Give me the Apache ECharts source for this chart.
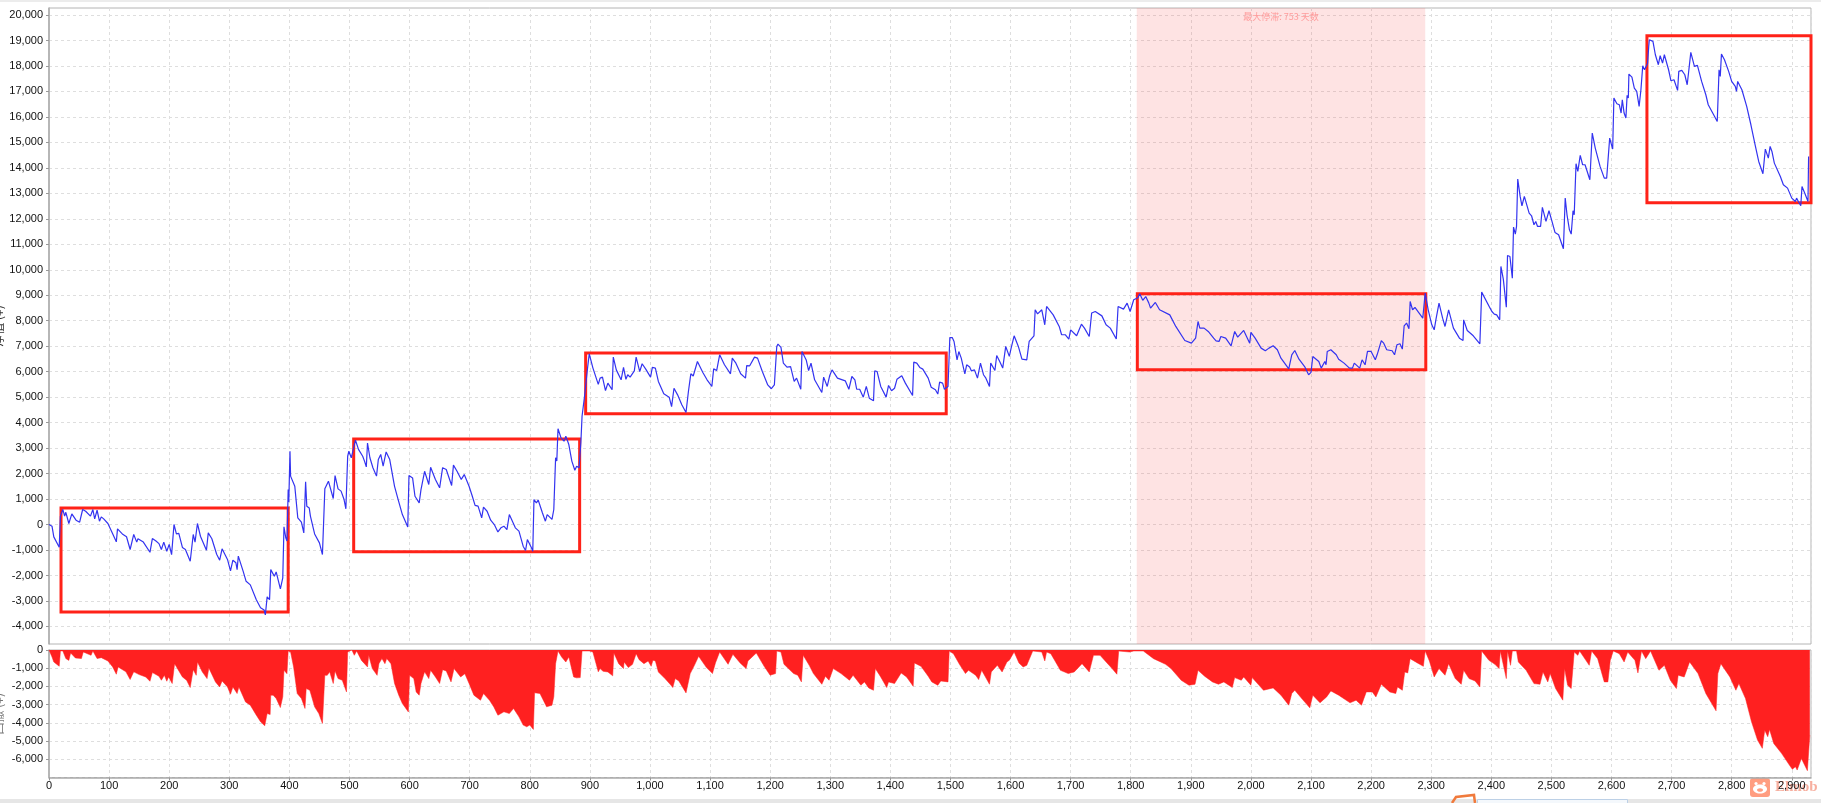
<!DOCTYPE html>
<html>
<head>
<meta charset="utf-8">
<title>净值曲线</title>
<style>
  html, body { margin: 0; padding: 0; background: #fff; overflow: hidden; }
  #chart { width: 1821px; height: 803px; }
</style>
</head>
<body>
<div id="chart"></div>
<script src="https://cdn.jsdelivr.net/npm/echarts@6/dist/echarts.min.js"></script>
<script>
// values: [trade no, amount]
const equityCurve = [
  [0,0],[5,-65],[8,-484],[17,-890],[19,330],[23,590],[26,330],[28,480],[33,40],[36,30],[38,420],[41,390],[45,170],[51,90],[56,590],[61,520],[64,590],[69,330],[73,590],[76,220],[80,560],[84,130],[87,300],[91,220],[98,40],
  [104,-260],[112,-680],[114,-170],[122,-370],[129,-480],[135,-980],[141,-390],[146,-690],[148,-560],[157,-690],[168,-1090],[172,-550],[178,-650],[183,-750],[187,-980],[191,-690],[196,-1050],[200,-780],[204,-1180],[208,0],[212,-370],[216,-350],[222,-900],[227,-980],[235,-1440],[240,-390],[243,-690],[247,40],[252,-460],[262,-1010],[265,-330],[271,-560],[279,-1165],[284,-1400],[288,-955],[297,-1370],
  [302,-1820],[306,-1400],[311,-1500],[313,-1770],[315,-1240],[323,-1830],[328,-2230],[335,-2370],[345,-2950],[352,-3270],[358,-3360],[360,-3550],[363,-2840],[367,-2950],[369,-1770],[372,-1740],[375,-2030],[378,-1860],[385,-2530],[389,-2090],[391,-90],[394,-520],[396,-650],[398,1370],[399,880],
  [401,2880],[402,1900],[405,1900],[409,1500],[414,260],[420,90],[424,-330],[426,-330],[427,1680],[429,720],[433,650],[435,330],[438,390],[442,-370],[450,-720],[455,-1180],[459,1400],[462,1370],[465,1700],[468,1660],[473,1020],[476,1920],[481,1400],[486,1310],[491,980],[494,615],[497,2680],[499,2880],
  [503,2620],[510,3310],[515,2950],[522,2680],[525,2490],[528,2260],[530,3200],[534,2620],[539,2230],[545,1900],[548,2550],[552,2750],[556,2290],[561,2850],[567,2550],[575,1500],[581,980],[588,390],[597,-100],[599,1920],[605,1830],[609,1110],[616,850],[619,1370],[625,2090],[632,1570],[635,2250],[643,1770],[650,1440],[655,2230],[661,2160],[670,1530],[673,2330],[679,2090],[686,1770],[691,1960],[699,1500],
  [704,1140],[709,750],[714,720],[720,260],[723,680],[729,520],[735,170],[741,0],[747,-290],[752,-130],[757,-65],[762,-200],[766,390],[776,-130],[782,-260],[789,-850],[793,-1020],[796,-590],[803,-920],[805,-1050],[807,980],[811,850],[814,960],[821,460],[826,130],[829,390],[837,200],[840,590],[843,2620],[845,2490],[847,3760],[852,3400],[857,3270],[860,3470],[865,3140],[870,2490],[875,2130],[878,2290],[882,2230],[885,3200],
  [887,4250],[891,5000],[896,6110],[899,6700],[905,6150],[914,5500],[917,5746],[921,5785],[926,5260],[930,5550],[937,5290],[939,6570],[944,6070],[952,5680],[956,6165],[960,5700],[963,5880],[967,5785],[974,6030],[977,6570],[983,6005],[987,6310],[993,6100],
  [1001,5785],[1004,6165],[1009,6140],[1014,5615],[1023,5130],[1032,5000],[1036,4630],[1040,5350],[1046,5090],[1053,4700],[1060,4400],[1064,5220],[1068,5916],[1072,5830],[1079,6400],[1082,6360],[1088,5970],[1095,5680],[1103,5420],[1106,6110],[1111,6045],[1116,6660],[1124,6270],[1134,5916],[1137,6530],[1143,6335],[1151,5916],[1159,5745],[1161,6240],[1166,6230],[1174,6570],[1179,6530],[1187,6005],[1196,5480],
  [1202,5330],[1207,5480],[1211,6990],[1213,7080],[1218,6950],[1222,6335],[1228,6180],[1234,6200],[1240,5615],[1244,5745],[1251,5310],[1253,6790],[1260,6460],[1264,6045],[1268,6335],[1274,5680],[1286,5180],[1289,5785],[1295,5420],[1299,5837],[1303,6070],[1312,5745],[1325,5640],[1331,5310],[1336,5810],[1341,5680],[1344,5310],[1349,5310],[1355,5000],[1360,5420],[1365,4960],[1372,4855],[1374,6030],[1378,6005],[1384,5420],[1393,5000],[1397,5460],
  [1402,5250],[1407,5350],[1411,5700],[1419,5837],[1425,5550],[1437,5065],[1439,6375],[1444,6335],[1449,6165],[1454,6100],[1463,5745],[1468,5390],[1475,5290],[1479,5120],[1482,5590],[1487,5550],[1490,5310],[1496,5420],[1499,7340],[1503,7340],[1506,7185],[1511,6465],[1514,6790],[1518,6530],[1524,5916],[1527,6270],[1532,6180],[1535,6030],[1540,6070],[1545,5745],[1550,6335],[1555,5880],[1559,5745],[1565,5420],[1567,6335],[1574,6045],[1577,6635],[1582,6400],[1587,6140],[1592,6990],[1598,6600],
  [1601,6920],[1606,7408],[1613,6990],[1619,6490],[1627,6465],[1631,7185],[1639,7408],[1641,8430],[1645,8270],[1652,8430],[1657,7840],[1660,8560],[1663,8560],[1671,8230],[1681,7775],[1685,7450],[1691,7450],[1697,7280],[1700,7640],[1710,7408],[1718,7865],[1723,7710],[1731,7380],[1735,8300],[1741,8360],[1752,8190],[1759,7840],[1766,7710],[1776,7280],[1779,8560],[1788,8455],[1794,8690],[1799,8360],[1805,8822],
  [1812,8900],[1815,9060],[1820,8800],[1825,8950],[1830,8700],[1833,8495],[1841,8717],[1848,8430],[1865,8230],[1875,7775],[1890,7225],[1901,7120],[1908,7317],[1912,7970],[1915,7710],[1922,7710],[1929,7580],[1938,7315],[1942,7210],[1947,7186],[1950,7380],[1958,7315],[1967,7015],[1970,6990],[1973,7580],[1978,7356],[1988,7618],[1998,7120],
  [2000,7540],[2007,7315],[2017,6924],[2024,6820],[2030,6924],[2037,7015],[2044,6860],[2050,6530],[2063,6112],[2068,6662],[2073,6830],[2080,6490],[2090,6178],[2096,5877],[2100,5970],[2103,6597],[2113,6400],[2117,6139],[2123,6400],[2125,6270],[2127,6793],[2133,6859],[2142,6662],[2146,6490],[2155,6335],[2164,6139],[2169,6139],[2172,6335],[2181,6139],[2185,6466],[2190,6270],[2194,6793],[2200,6793],
  [2207,6466],[2210,6662],[2217,7212],[2221,7120],[2226,6859],[2235,6820],[2239,6662],[2243,7055],[2248,7094],[2252,6885],[2255,7800],[2259,7906],[2263,7683],[2265,8757],[2269,8430],[2273,8520],[2279,8325],[2282,8364],[2286,8100],[2289,8100],[2290,9082],[2295,8428],
  [2301,7839],[2305,7642],[2308,8060],[2311,8009],[2313,8690],[2319,8100],[2323,7773],[2329,8428],[2337,7708],[2347,7315],[2353,7224],[2354,8035],[2360,7616],[2370,7407],[2381,7093],[2384,9122],[2398,8493],[2401,8362],[2405,8258],[2409,8230],[2414,8035],[2416,10130],[2420,9632],[2423,9600],[2425,8533],[2427,10561],[2431,10522],[2435,9671],[2437,11674],[2440,11399],[2442,11700],[2444,13559],[2448,12878],[2451,12512],[2455,12878],[2458,12813],[2463,12224],[2467,12119],[2471,11766],[2474,11897],[2477,11700],[2482,11700],[2485,12447],[2491,11897],[2496,12316],
  [2501,11897],[2506,11465],[2512,11373],[2520,10823],[2523,12813],[2526,12158],[2530,11570],[2533,11399],[2536,12316],[2538,12158],[2541,14161],[2544,13860],[2548,14489],[2552,14122],[2556,14122],[2564,13533],[2568,15366],[2573,14777],[2576,14711],[2581,14057],[2588,13598],[2592,13598],[2597,15169],
  [2602,14737],[2604,16740],[2609,16518],[2613,16478],[2616,16151],[2618,16675],[2621,16151],[2624,15955],[2626,16845],[2628,16740],[2629,17681],[2634,17563],[2638,17132],[2642,17001],[2646,16412],[2649,17066],[2652,18009],[2655,17851],[2660,18100],
  [2662,18768],[2663,19030],[2666,19095],[2669,18964],[2673,18440],[2678,18048],[2681,18401],[2685,18113],[2688,18440],[2695,17851],[2699,17419],[2704,17459],[2710,17040],[2712,17786],[2717,17825],[2722,17655],[2726,17262],[2732,18532],[2738,17982],[2743,18022],[2750,17393],[2757,16870],[2761,16477],[2770,16084],[2776,15823],[2779,17851],[2781,17590],[2783,18467],[2788,18244],[2795,17786],
  [2800,17393],[2806,17197],[2808,17001],[2810,17393],[2817,17066],[2825,16412],[2832,15692],[2839,14906],[2845,14252],[2852,13768],[2856,14736],[2861,14383],[2864,14841],[2867,14645],[2871,14186],[2881,13662],[2886,13335],[2893,13204],[2900,12812],[2906,12681],[2908,12812],[2911,12681],[2915,12510],[2917,13270],[2922,12982],[2927,12681],[2928,14448]
];

const drawdownCurve = [
  [0,0],[5,-380],[8,-660],[17,-890],[19,-50],[23,-50],[28,-470],[33,-570],[36,-160],[44,-440],[54,-470],[57,-110],[70,-290],[73,-50],[80,-470],[87,-420],[98,-600],[106,-930],[112,-1330],[115,-930],[128,-1200],[135,-1620],[141,-1200],[150,-1350],[161,-1480],[168,-1715],[172,-1240],[183,-1440],[187,-1660],[192,-1390],[196,-1715],[199,-1480],[205,-1840],[209,-750],[222,-1480],[229,-1660],[235,-2060],[240,-1080],[245,-1390],[247,-660],[255,-1200],[263,-1570],[266,-985],[277,-1750],[284,-2025],[288,-1700],[297,-2025],
  [302,-2430],[306,-2025],[313,-2390],[316,-2025],[327,-2850],[335,-3030],[345,-3580],[352,-3940],[359,-4160],[363,-3490],[368,-3540],[369,-2480],[373,-2480],[378,-2660],[385,-3160],[389,-2570],[391,-1110],[396,-1300],[398,-55],[400,0],[402,-110],[407,-930],[413,-2390],[420,-2660],[426,-3210],[428,-2120],[434,-2210],[442,-3120],[449,-3490],[455,-4030],[459,-1390],[463,-1390],[467,-1200],[473,-1840],[476,-1150],[481,-1570],[488,-1660],[495,-2300],[497,-110],
  [504,0],[508,-290],[512,-55],[520,-570],[530,-930],[532,-290],[538,-1020],[546,-1390],[549,-750],[554,-470],[559,-750],[562,-470],[569,-750],[575,-1840],[582,-2480],[588,-2940],[598,-3400],[600,-1390],[607,-1570],[611,-2300],[616,-2480],[619,-1840],[625,-1200],[632,-1570],[635,-1110],[643,-1480],[650,-1840],[655,-1080],[661,-1150],[669,-1750],[674,-1020],[685,-1480],[692,-1300],[699,-1840],
  [707,-2480],[718,-2760],[723,-2390],[733,-2760],[740,-3120],[747,-3580],[757,-3395],[766,-3490],[773,-3210],[782,-3670],[789,-4120],[795,-4215],[800,-4120],[806,-4360],[808,-2350],[817,-2390],[824,-2850],[828,-3120],[837,-3030],[840,-2570],[843,-750],[847,-55],[853,-380],[860,-660],[865,-380],[873,-1480],[878,-1530],[884,-1515],[887,-55],[899,-55],
  [905,-110],[914,-1200],[917,-1020],[922,-1170],[930,-1205],[938,-1420],[940,-165],[948,-750],[956,-1020],[957,-655],[964,-965],[971,-785],[977,-200],[982,-530],[990,-750],[997,-600],[1002,-895],[1005,-565],[1009,-600],[1014,-1205],[1025,-1570],[1035,-1935],[1038,-2060],[1042,-1570],[1048,-1700],[1060,-2355],[1067,-1295],[1074,-840],[1081,-345],[1094,-965],[1104,-1295],[1109,-710],[1116,-110],[1130,-785],[1138,-235],[1150,-710],[1160,-1020],[1163,-600],[1177,-165],[1190,-895],
  [1200,-1385],[1209,-1295],[1211,-55],[1218,-110],[1223,-785],[1239,-1295],[1246,-1385],[1252,-1750],[1255,-290],[1265,-840],[1272,-1295],[1286,-1880],[1292,-1440],[1298,-1660],[1305,-1020],[1318,-1295],[1332,-1660],[1338,-1385],[1351,-1935],[1357,-1750],[1364,-2080],[1372,-2210],[1375,-1020],[1384,-1480],[1394,-2060],[1397,-1750],[1407,-1845],[1418,-1260],[1427,-1480],[1438,-1990],[1440,-710],[1451,-895],[1463,-1440],[1469,-1750],[1479,-1935],[1484,-1700],[1496,-1750],[1498,-55],
  [1505,-200],[1515,-785],[1525,-1295],[1530,-1115],[1542,-1385],[1547,-1625],[1552,-1115],[1565,-1880],[1568,-1205],[1578,-840],[1586,-1205],[1594,-655],[1598,-565],[1606,-110],[1614,-710],[1621,-930],[1627,-840],[1637,-55],[1652,-110],[1657,-600],[1660,-110],[1667,-200],[1683,-1115],[1696,-1295],[1706,-1205],[1709,-1115],[1719,-750],[1731,-1205],[1738,-290],[1749,-290],[1759,-655],[1769,-1020],[1777,-1330],[1780,-55],[1798,-110],[1805,-55],[1821,-55],
  [1838,-475],[1858,-785],[1867,-1020],[1884,-1660],[1897,-1935],[1907,-1880],[1912,-1115],[1923,-1440],[1936,-1750],[1946,-1880],[1955,-1750],[1969,-2060],[1973,-1515],[1984,-1660],[1988,-1480],[2000,-1935],[2002,-1515],[2021,-2210],[2037,-2080],[2050,-2480],[2063,-3030],[2068,-2390],[2073,-2210],[2086,-2720],[2098,-3175],[2103,-2480],[2115,-2900],[2126,-2575],[2133,-2245],[2146,-2480],[2165,-2900],[2175,-2755],[2184,-3030],[2192,-2300],[2202,-2300],[2208,-2575],[2217,-1880],[2231,-2300],[2241,-2390],[2244,-2025],[2252,-2210],[2256,-1205],[2261,-1260],[2265,-475],[2277,-710],[2287,-895],[2290,-55],
  [2297,-600],[2305,-1480],[2313,-1020],[2323,-1385],[2329,-750],[2340,-1570],[2350,-1880],[2354,-1115],[2363,-1570],[2373,-1700],[2381,-2025],[2384,-55],[2396,-565],[2406,-785],[2413,-1020],[2415,-55],[2422,-1115],[2425,-1570],[2427,-55],[2432,-840],[2435,-55],[2442,-55],[2445,-655],[2458,-1115],[2471,-1845],[2481,-1880],[2486,-1205],[2494,-1750],[2498,-1295],[2507,-2115],[2519,-2755],[2522,-1020],[2527,-1935],[2533,-2115],[2538,-110],[2544,-290],[2547,-55],[2563,-840],[2567,-55],[2577,-475],[2588,-1750],[2594,-1750],[2598,-565],
  [2603,-55],[2613,-200],[2621,-655],[2627,-110],[2639,-565],[2644,-1260],[2650,-55],[2657,-475],[2665,-55],[2679,-1115],[2688,-840],[2698,-1660],[2708,-2115],[2711,-1385],[2721,-1480],[2730,-655],[2744,-1295],[2757,-2390],[2774,-3340],[2777,-1295],[2782,-750],[2797,-1480],[2807,-2210],[2812,-1845],[2823,-2665],[2833,-3940],[2843,-4945],[2851,-5400],[2855,-4400],[2860,-4760],[2863,-4360],[2870,-5130],[2883,-5675],[2896,-6315],[2901,-6550],[2906,-6405],[2909,-6590],[2916,-5950],[2926,-6625],[2930,-4670]
];

const equityTicks = [-4000,-3000,-2000,-1000,0,1000,2000,3000,4000,5000,6000,7000,8000,9000,10000,11000,12000,13000,14000,15000,16000,17000,18000,19000,20000];
const stagnation = { from: 1810, to: 2290, label: '最大停滞: 753 天数' };
// the red boxes: [x from, x to, top value, bottom value]
const redBoxes = [
  [20, 398, 644, -3434],
  [507, 883, 3353, -1072],
  [893, 1493, 6729, 4346],
  [1811, 2291, 9058, 6073],
  [2659, 2932, 19187, 12630],
];

const xMax = 2932;
const font = '"Liberation Sans", Arial, sans-serif';
const gridLine = { show: true, lineStyle: { color: '#dedede', type: [3, 3], width: 1 } };
const labelStyle = { color: '#111', fontSize: 11, fontFamily: font, margin: 6 };
const tickStyle = { show: true, length: 3, lineStyle: { color: '#999' } };
const axisLine = { show: true, onZero: false, lineStyle: { color: '#aaa', width: 1.5 } };

const chart = echarts.init(document.getElementById('chart'), null, { renderer: 'canvas' });

chart.setOption({
  animation: false,
  backgroundColor: '#fff',
  grid: [
    { left: 49, right: 10, top: 8, height: 636, outerBoundsMode: 'none', show: true, borderColor: '#b4b4b4', borderWidth: 1, backgroundColor: '#fff' },
    { left: 49, right: 10, top: 650, height: 127.5, outerBoundsMode: 'none', show: true, borderColor: '#b4b4b4', borderWidth: 1, backgroundColor: '#fff' },
  ],
  xAxis: [
    {
      gridIndex: 0, type: 'value', min: 0, max: xMax, interval: 100,
      axisLine: { show: false }, axisTick: { show: false }, axisLabel: { show: false }, splitLine: gridLine,
    },
    {
      gridIndex: 1, type: 'value', min: 0, max: xMax, interval: 100,
      axisLine, axisTick: tickStyle,
      axisLabel: { ...labelStyle, showMaxLabel: false, margin: 3 },
      splitLine: gridLine,
    },
  ],
  yAxis: [
    {
      gridIndex: 0, type: 'value', min: -4690, max: 20275,
      name: '净值 (¥)', nameLocation: 'middle', nameGap: 45, nameRotate: 90, nameMoveOverlap: false,
      nameTextStyle: { color: '#333', fontSize: 12, fontFamily: '"Noto Sans CJK SC", sans-serif' },
      axisLine,
      axisTick: { ...tickStyle, customValues: equityTicks },
      axisLabel: { ...labelStyle, customValues: equityTicks },
      splitLine: gridLine,
    },
    {
      gridIndex: 1, type: 'value', min: -7000, max: 0, interval: 1000,
      name: '回撤 (¥)', nameLocation: 'middle', nameGap: 45, nameRotate: 90, nameMoveOverlap: false,
      nameTextStyle: { color: '#777', fontSize: 12, fontFamily: '"Noto Sans CJK SC", sans-serif' },
      axisLine, axisTick: tickStyle,
      axisLabel: { ...labelStyle, showMinLabel: false },
      splitLine: gridLine,
    },
  ],
  series: [
    {
      name: '最大停滞',
      type: 'line', xAxisIndex: 0, yAxisIndex: 0, z: 1,
      data: [[stagnation.from, 20000]],
      showSymbol: false, lineStyle: { width: 0 },
      silent: true,
      markArea: {
        silent: true,
        itemStyle: { color: 'rgba(250, 90, 90, 0.17)' },
        label: {
          show: true, position: 'insideTop', distance: 4,
          color: '#ff9c9c', fontSize: 9, fontFamily: '"Noto Sans CJK SC", sans-serif',
          formatter: stagnation.label,
        },
        data: [[{ coord: [stagnation.from, 20275] }, { coord: [stagnation.to, -4690] }]],
      },
    },
    {
      name: '净值',
      type: 'line', xAxisIndex: 0, yAxisIndex: 0, z: 3,
      data: equityCurve,
      showSymbol: false,
      lineStyle: { color: '#3333f0', width: 1.2 },
    },
    {
      name: '标注',
      type: 'line', xAxisIndex: 0, yAxisIndex: 0, z: 5,
      data: [[0, 0]],
      showSymbol: false, lineStyle: { width: 0 },
      silent: true,
      markArea: {
        silent: true,
        itemStyle: { color: 'rgba(0,0,0,0)', borderColor: '#ff2218', borderWidth: 3 },
        data: redBoxes.map(b => [{ coord: [b[0], b[2]] }, { coord: [b[1], b[3]] }]),
      },
    },
    {
      name: '回撤',
      type: 'line', xAxisIndex: 1, yAxisIndex: 1, z: 3,
      data: drawdownCurve,
      showSymbol: false,
      lineStyle: { color: '#ff2020', width: 0.5 },
      areaStyle: { color: '#ff2020', opacity: 1 },
    },
  ],
  graphic: [
    // window edges left in the screenshot
    { type: 'rect', left: 0, top: 0, shape: { width: 1821, height: 2 }, style: { fill: '#ececec' }, silent: true },
    { type: 'rect', left: 0, top: 799, shape: { width: 1821, height: 4 }, style: { fill: '#e6e6e6' }, silent: true },
    { type: 'rect', left: 1477, top: 799, shape: { width: 150, height: 4 }, style: { fill: '#f4f8fc', stroke: '#bcd0e6', lineWidth: 1 }, silent: true },
    { type: 'polyline', shape: { points: [[1452, 803], [1456, 797], [1474, 795], [1475, 803]] }, style: { stroke: '#f07a3c', lineWidth: 2.5, fill: 'none' }, silent: true },
    // watermark
    { type: 'rect', left: 1750, top: 778, shape: { width: 20, height: 19, r: 3 }, style: { fill: '#ff9d80' }, silent: true },
    { type: 'ellipse', shape: { cx: 1760, cy: 789, rx: 7, ry: 4.5 }, style: { fill: '#fff' }, silent: true },
    { type: 'circle', shape: { cx: 1756, cy: 783.5, r: 1.6 }, style: { fill: '#fff' }, silent: true },
    { type: 'circle', shape: { cx: 1764, cy: 783.5, r: 1.6 }, style: { fill: '#fff' }, silent: true },
    { type: 'ellipse', shape: { cx: 1760, cy: 790, rx: 3, ry: 1.8 }, style: { fill: '#ff9d80' }, silent: true },
    { type: 'text', left: 1775, top: 780, silent: true, style: { text: 'Elmob', fill: 'rgba(240, 110, 80, 0.55)', font: 'bold 15px "Liberation Serif", serif' } },
  ],
});

window.addEventListener('resize', () => chart.resize());
</script>
</body>
</html>
